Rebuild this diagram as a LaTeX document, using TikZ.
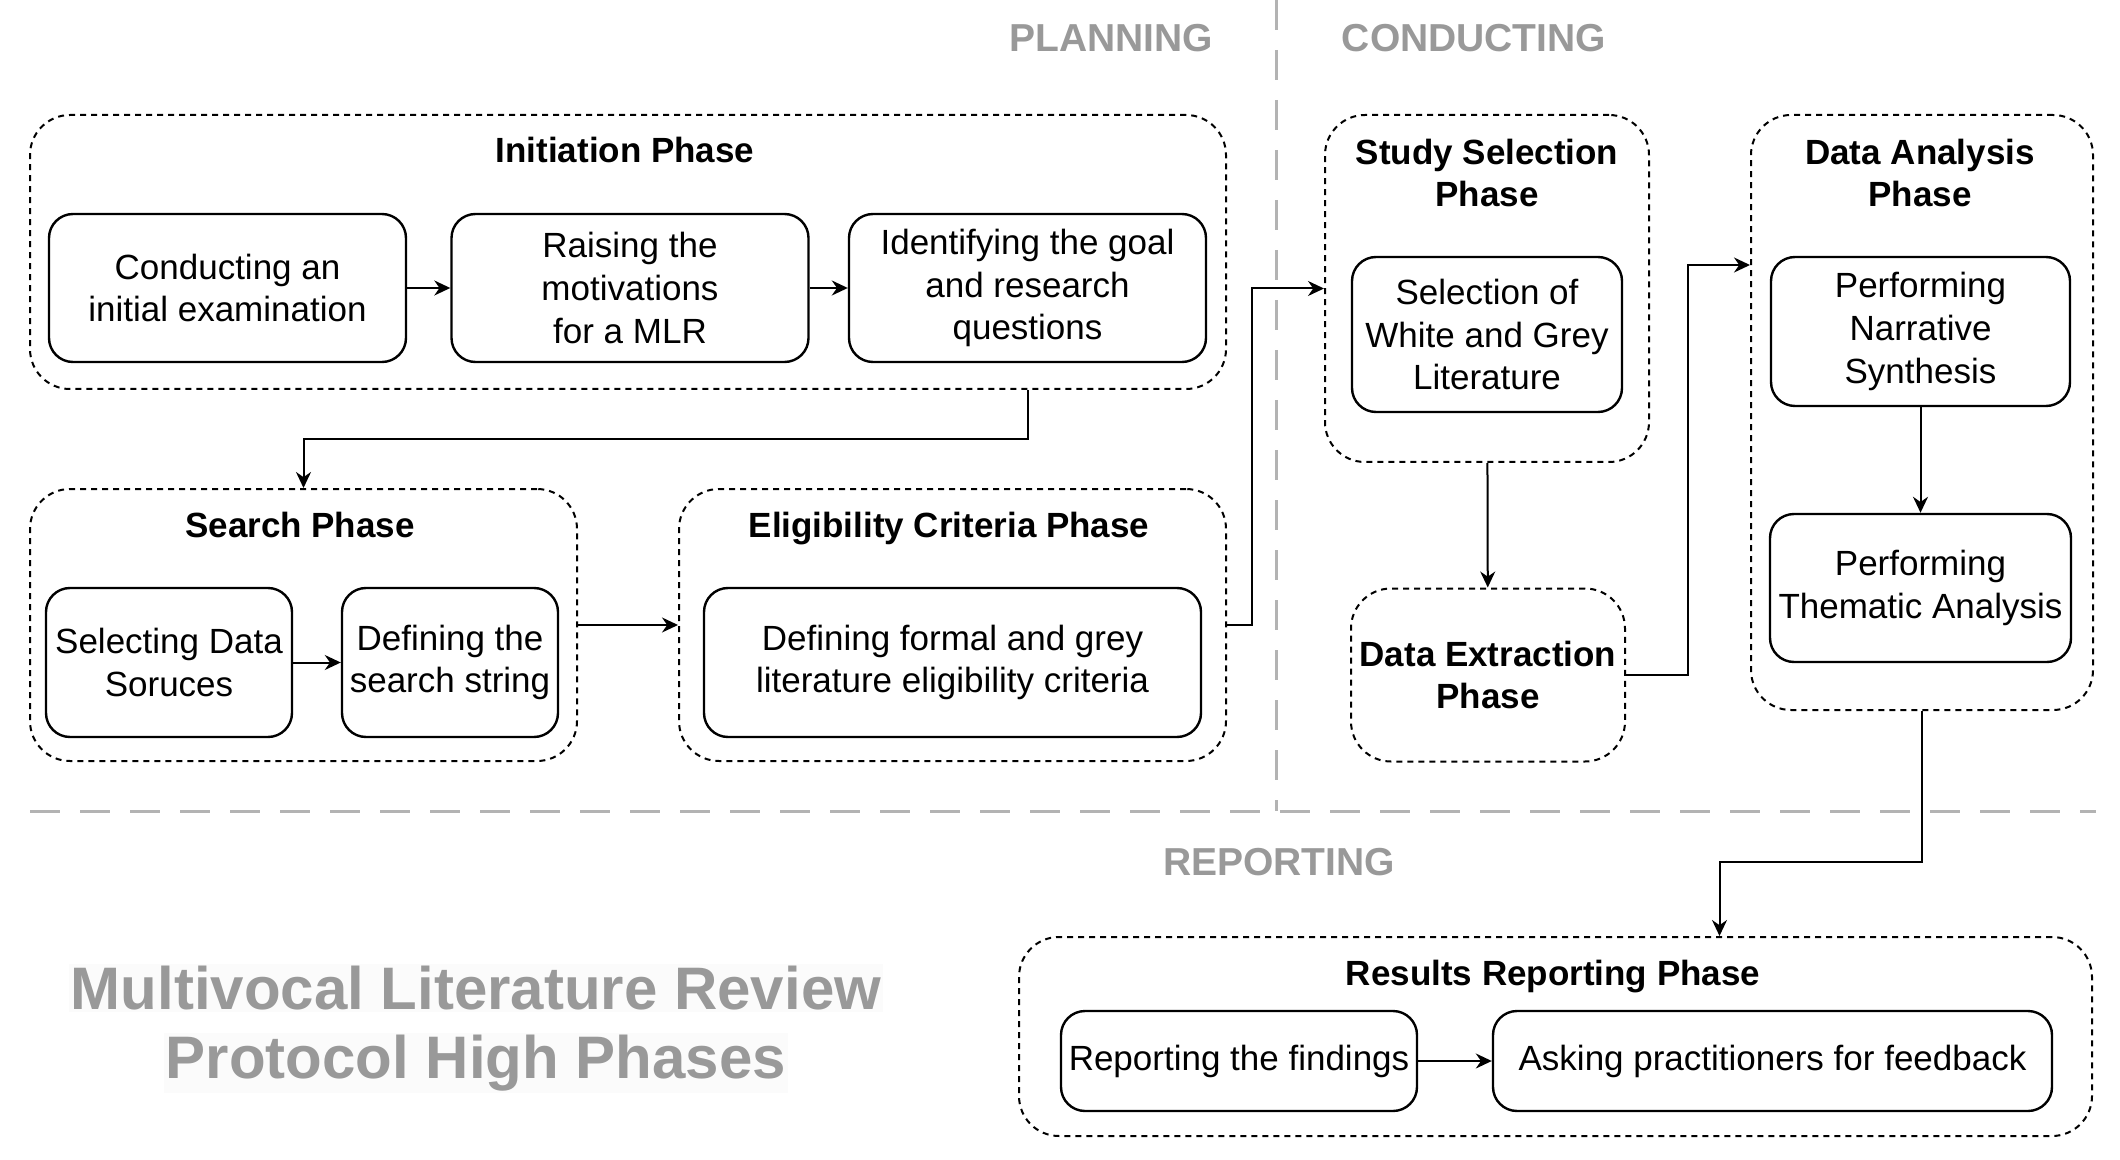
\documentclass[tikz,border=0pt]{standalone}
\usepackage{fontspec}
\setmainfont{Liberation Sans}
\usetikzlibrary{arrows.meta}
\definecolor{hdrgray}{HTML}{999999}
\definecolor{sepgray}{HTML}{B3B3B3}
\definecolor{titlebg}{HTML}{FBFBFB}
\tikzset{
    phase/.style={draw,rounded corners=20pt,dash pattern=on 3pt off 2.5pt,line width=1pt,inner sep=0pt},
    task/.style={draw,rounded corners=12pt,line width=1.2pt,align=center,inner sep=0pt,font=\fontsize{17.5}{21.3}\selectfont},
    ptitle/.style={align=center,font=\fontsize{17.5}{21.3}\selectfont\bfseries},
    stage/.style={text=hdrgray,font=\fontsize{19.5}{23}\selectfont\bfseries},
    sep/.style={draw=sepgray,line width=1.5pt,dash pattern=on 15pt off 10pt},
    arr/.style={line width=1pt,-{Stealth[length=8pt,width=7.5pt]}}
}
\begin{document}
\begin{tikzpicture}[x=0.5pt,y=-0.5pt]
        \useasboundingbox (0,0) rectangle (2120,1160);
        \draw[sep] (1276,0) -- (1276,811);
        \draw[sep] (30,811) -- (2096,811);
        \begin{scope}[every node/.style={stage}]
            \node (plan) at (1111,38) {PLANNING};
            \node (cond) at (1474,38) {CONDUCTING};
            \node (rep)  at (1279,862) {REPORTING};
        \end{scope}
        \begin{scope}[every node/.style={text=hdrgray,fill=titlebg,inner sep=1pt,font=\fontsize{30}{34}\selectfont\bfseries}]
            \node (title1) at (476,988) {Multivocal Literature Review};
            \node (title2) at (476,1063) {Protocol High Phases};
        \end{scope}
        \begin{scope}[every node/.style={phase}]
            \node (init)     [minimum width=598pt,minimum height=137pt]   at (628,252) {};
            \node (search)   [minimum width=273.5pt,minimum height=136pt] at (303.5,625) {};
            \node (elig)     [minimum width=273.5pt,minimum height=136pt] at (952.5,625) {};
            \node (study)    [minimum width=162pt,minimum height=173.5pt] at (1487,288.5) {};
            \node (extract)  [minimum width=137pt,minimum height=86.5pt,ptitle] at (1488,675) {Data Extraction\\Phase};
            \node (analysis) [minimum width=171pt,minimum height=297.5pt] at (1922,412.5) {};
            \node (results)  [minimum width=536.5pt,minimum height=99.5pt] at (1555.5,1036.5) {};
        \end{scope}
        \begin{scope}[every node/.style={ptitle}]
            \node (tinit)     at (625,150)  {Initiation Phase};
            \node (tsearch)   at (300,525)  {Search Phase};
            \node (telig)     at (949,529)  {Eligibility Criteria Phase};
            \node (tstudy)    at (1487,173) {Study Selection\\Phase};
            \node (tanalysis) at (1920,173) {Data Analysis\\Phase};
            \node (tresults)  at (1553,977) {Results Reporting Phase};
        \end{scope}
        \begin{scope}[every node/.style={task}]
            \node (c1) [minimum width=178.5pt,minimum height=74pt] at (227.5,288) {Conducting an\\initial examination};
            \node (c2) [minimum width=178.5pt,minimum height=74pt] at (630,288) {Raising the\\motivations\\for a MLR};
            \node (c3) [minimum width=178.5pt,minimum height=74pt] at (1027.5,288) {Identifying the goal\\and research\\questions};
            \node (s1) [minimum width=123pt,minimum height=74.5pt] at (169,662.5) {Selecting Data\\Soruces};
            \node (s2) [minimum width=108pt,minimum height=74.5pt] at (450,662.5) {Defining the\\search string};
            \node (e1) [minimum width=248.5pt,minimum height=74.5pt] at (952.5,662.5) {Defining formal and grey\\literature eligibility criteria};
            \node (ss1) [minimum width=135pt,minimum height=77.5pt] at (1487,334.5) {Selection of\\White and Grey\\Literature};
            \node (a1) [minimum width=149.5pt,minimum height=74.5pt] at (1920.5,331.5) {Performing\\Narrative\\Synthesis};
            \node (a2) [minimum width=150.5pt,minimum height=74pt] at (1920.5,588) {Performing\\Thematic Analysis};
            \node (r1) [minimum width=178pt,minimum height=50pt] at (1239,1061) {Reporting the findings};
            \node (r2) [minimum width=279.5pt,minimum height=50pt] at (1772.5,1061) {Asking practitioners for feedback};
        \end{scope}
        \coordinate (ain) at ([yshift=73.75pt]analysis.west);
        \coordinate (rin) at ([xshift=82pt]results.north);
        \begin{scope}[every edge/.style={draw,arr}]
            \path
                (c1) edge (c2)
                (c2) edge (c3)
                (s1) edge (s2)
                (search) edge (elig)
                (study) edge (extract)
                (a1) edge (a2)
                (r1) edge (r2);
        \end{scope}
        \draw[arr] (init.south -| c3) -- ++(0,49) -| (search.north);
        \draw[arr] (elig.east) -- ++(25,0) |- (study.west);
        \draw[arr] (extract.east) -- ++(62,0) |- (ain);
        \draw[arr] (analysis.south) -- ++(0,151) -| (rin);
    \end{tikzpicture}
\end{document}
